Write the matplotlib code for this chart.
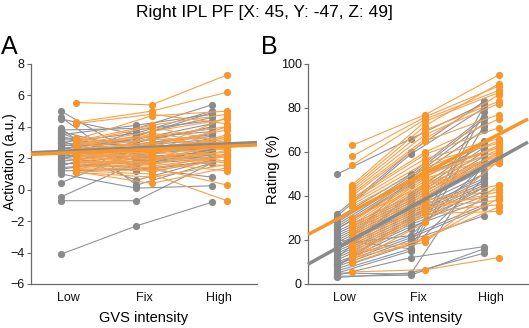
import matplotlib
matplotlib.use("Agg")
import matplotlib.pyplot as plt
import numpy as np

plt.rcParams['font.family'] = ['Liberation Sans', 'DejaVu Sans']

title = "Right IPL PF [X: 45, Y: -47, Z: 49]"
categories = ["Low", "Fix", "High"]

# Panel A: activation (a.u.), per subject [Low, Fix, High]
gray_A = [
    (5.0, 2.2, 2.0), (4.6, 1.2, 1.8), (4.5, 3.5, 4.6), (3.9, 0.3, 1.7), (3.8, 3.9, 5.4),
    (3.7, 2.5, 3.0), (3.6, 1.8, 2.5), (3.5, 4.1, 4.8), (3.4, 2.0, 3.3), (3.3, 3.0, 4.0),
    (3.2, 2.8, 3.2), (3.1, 1.5, 2.6), (3.0, 3.6, 5.0), (2.9, 2.3, 2.8), (2.8, 2.9, 3.5),
    (2.7, 1.9, 2.2), (2.6, 3.2, 4.2), (2.5, 2.6, 3.1), (2.4, 0.6, 1.9), (2.3, 3.3, 3.7),
    (2.2, 2.1, 2.3), (2.1, 2.7, 3.6), (2.0, 1.6, 2.0), (1.9, 3.8, 4.4), (1.8, 2.4, 2.9),
    (1.7, 1.4, 0.8), (1.6, 2.2, 2.7), (1.5, 3.1, 3.9), (1.3, 2.0, 2.4), (1.2, 1.3, 1.8),
    (1.0, 0.1, 0.25), (0.45, 2.4, 2.5), (-0.45, 1.7, 2.1), (-0.7, -0.7, 1.7), (-4.1, -2.3, -0.8),
    (2.6, 3.4, 4.9), (2.3, 2.9, 3.4), (3.0, 2.5, 2.6), (2.0, 2.6, 3.0), (1.4, 1.8, 2.2),
]
orange_A = [
    (5.55, 5.4, 7.3), (4.3, 5.0, 6.2), (4.2, 4.8, 4.2), (3.2, 4.7, 5.0), (3.1, 4.1, 4.8),
    (3.0, 4.0, 3.0), (2.9, 3.7, 4.5), (2.85, 3.5, 2.5), (2.8, 3.4, 4.0), (2.7, 3.2, 3.3),
    (2.6, 3.0, 2.0), (2.55, 2.9, 3.8), (2.5, 2.8, 2.6), (2.45, 2.7, 3.2), (2.4, 2.6, 1.8),
    (2.35, 2.5, 3.1), (2.3, 2.4, 2.9), (2.2, 2.3, 2.2), (2.15, 2.2, 3.5), (2.1, 2.1, 1.5),
    (2.0, 2.0, 2.8), (1.9, 1.9, 2.4), (1.8, 1.8, 3.0), (1.75, 1.7, 1.2), (1.7, 1.6, 2.7),
    (1.6, 1.5, 2.1), (1.5, 1.4, 0.3), (1.4, 1.3, 2.3), (1.3, 1.2, 1.9), (1.2, 1.0, -0.7),
    (1.1, 0.8, 1.6), (1.15, 0.4, 1.4), (3.3, 2.6, 4.6), (1.95, 3.3, 2.6), (2.65, 1.9, 3.4),
    (1.25, 2.5, 4.0), (2.25, 1.6, 2.5), (3.05, 2.2, 1.7), (1.45, 3.6, 2.9), (2.75, 1.1, 2.2),
]
# fit lines: (value at x=0.5, value at x=3.5)
fit_gray_A = (2.35, 3.0)
fit_orange_A = (2.25, 2.85)

# Panel B: rating (%), per subject [Low, Fix, High]
gray_B = [
    (50, 66, 82), (32, 60, 83), (31, 59, 80), (30, 50, 76), (28, 49, 75), (27, 48, 73),
    (26, 47, 70), (25, 46, 65), (25, 45, 63), (24, 40, 62), (23, 39, 60), (22, 38, 58),
    (21, 37, 56), (20, 36, 55), (19, 35, 52), (18, 34, 50), (17, 33, 48), (17, 32, 47),
    (16, 31, 46), (15, 30, 45), (14, 29, 44), (13, 28, 42), (12, 27, 40), (11, 26, 38),
    (10, 22, 36), (9, 21, 35), (8, 20, 31), (7, 18, 81), (6, 16, 78), (5, 15, 72),
    (4, 12, 17), (3, 5, 14), (3.5, 4, 16), (5, 4.5, 55), (8, 30, 50), (12, 41, 64),
    (15, 48, 60), (18, 22, 54), (20, 16, 48), (9, 25, 44),
]
orange_B = [
    (63, 77, 95), (58, 76, 90), (54, 75, 88), (45, 74, 87), (44, 72, 91), (43, 70, 83),
    (42, 68, 82), (41, 66, 86), (40, 65, 77), (39, 60, 75), (38, 59, 71), (37, 57, 66),
    (36, 55, 64), (35, 53, 65), (29, 52, 62), (28, 50, 60), (27, 49, 63), (26, 48, 58),
    (25, 47, 61), (24, 46, 57), (23, 45, 59), (22, 44, 56), (21, 43, 55), (20, 42, 60),
    (19, 41, 58), (18, 40, 57), (17, 38, 45), (16, 37, 43), (15, 36, 40), (14, 35, 38),
    (13, 34, 42), (12, 33, 36), (11, 32, 33), (10, 28, 56), (9.5, 21, 35), (14, 20, 39),
    (12, 19, 45), (5.5, 6.5, 12), (22, 50, 62), (30, 45, 55),
]
fit_gray_B = (9.0, 64.5)
fit_orange_B = (22.5, 75.0)

GRAY = "#8a8a8a"
GRAY_LINE = "#8f9399"
ORANGE = "#f7962b"
ORANGE_LINE = "#f9a04a"

fig = plt.figure(figsize=(5.29, 3.28), dpi=100)
axA = fig.add_axes([31/529, 44/328, 226/529, 220/328])
axB = fig.add_axes([308/529, 44/328, 220/529, 220/328])

xpos = np.arange(1, len(categories) + 1)
offset = 0.1


def draw(ax, gray, orange, fit_g, fit_o):
    g = np.array(gray, dtype=float)
    o = np.array(orange, dtype=float)
    for row in g:
        ax.plot(xpos - offset, row, color=GRAY_LINE, lw=0.8, zorder=2)
    for row in g:
        ax.plot(xpos - offset, row, 'o', color=GRAY, ms=5.2, mec='none', zorder=3)
    for row in o:
        ax.plot(xpos + offset, row, color=ORANGE_LINE, lw=0.8, zorder=4)
    for row in o:
        ax.plot(xpos + offset, row, 'o', color=ORANGE, ms=5.2, mec='none', zorder=5)
    xl = [0.5, 3.5]
    ax.plot(xl, fit_g, color=GRAY, lw=2.5, zorder=6, solid_capstyle='butt', clip_on=False)
    ax.plot(xl, fit_o, color=ORANGE, lw=2.5, zorder=7, solid_capstyle='butt', clip_on=False)
    ax.set_xlim(0.5, 3.5)
    ax.set_xticks(xpos)
    ax.set_xticklabels(categories)
    for s in ['top', 'right']:
        ax.spines[s].set_visible(False)
    for s in ['left', 'bottom']:
        ax.spines[s].set_color('#6a6a6a')
        ax.spines[s].set_linewidth(0.9)
    ax.tick_params(axis='both', direction='out', length=3, width=0.8, color='#6a6a6a',
                   labelsize=9, labelcolor='#111111', pad=1.5)
    ax.tick_params(axis='x', length=0, pad=6)
    ax.set_xlabel("GVS intensity", fontsize=10.5)
    ax.xaxis.set_label_coords(0.5, -(318 - 284) / 220, transform=ax.transAxes)
    ax.xaxis.label.set_va('center')


draw(axA, gray_A, orange_A, fit_gray_A, fit_orange_A)
axA.set_ylim(-6, 8)
axA.set_yticks(np.arange(-6, 9, 2))
axA.set_ylabel("Activation (a.u.)", fontsize=10, va='center')
axA.yaxis.set_label_coords((10 - 31) / 226, (284 - 162) / 220)

draw(axB, gray_B, orange_B, fit_gray_B, fit_orange_B)
axB.set_ylim(0, 100)
axB.set_yticks(np.arange(0, 101, 20))
axB.set_ylabel("Rating (%)", fontsize=10.5, va='center')
axB.yaxis.set_label_coords((273 - 308) / 220, (284 - 169) / 220)

fig.text(0.5, 1 - 12/328, title, ha='center', va='center', fontsize=12.5)
fig.text(1/529, 1 - 47/328, "A", ha='left', va='center', fontsize=18)
fig.text(261/529, 1 - 47/328, "B", ha='left', va='center', fontsize=18)

fig.savefig("out.png", dpi=100)
